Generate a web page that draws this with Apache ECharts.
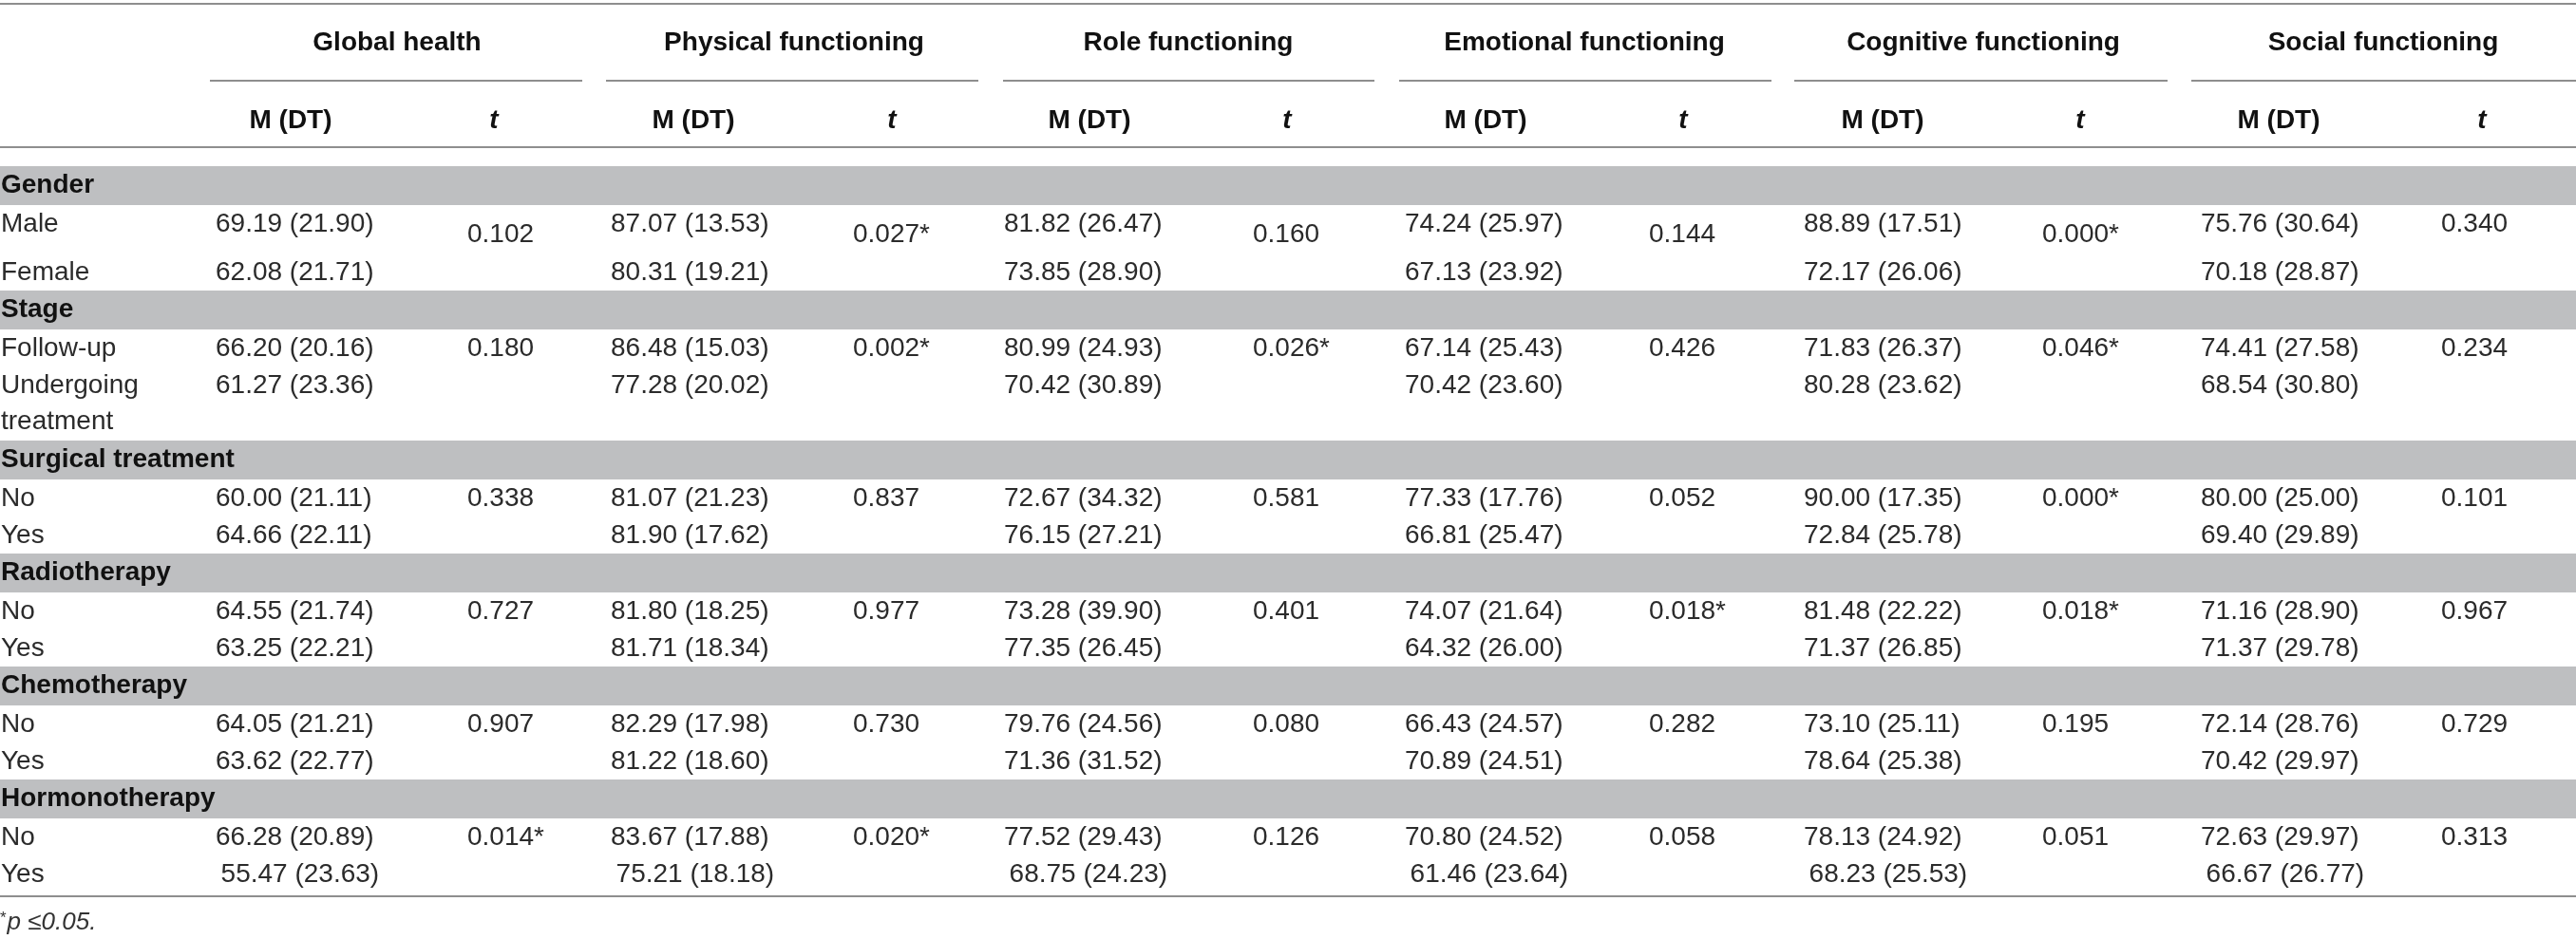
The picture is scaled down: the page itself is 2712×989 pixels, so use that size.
<!DOCTYPE html>
<html>
<head>
<meta charset="utf-8">
<script src="https://cdn.jsdelivr.net/npm/echarts@6/dist/echarts.min.js"></script>
<style>
    html, body { margin: 0; padding: 0; background: #fff; }
    #chart { width: 2712px; height: 989px; }
</style>
</head>
<body>
<div id="chart"></div>
<script>
// ---- data ----
const measures = ['Global health', 'Physical functioning', 'Role functioning',
    'Emotional functioning', 'Cognitive functioning', 'Social functioning'];
const subHeaders = ['M (DT)', 't'];
const groups = ['Gender', 'Stage', 'Surgical treatment', 'Radiotherapy', 'Chemotherapy', 'Hormonotherapy'];
const levels = [
    ['Male', 'Female'],
    ['Follow-up', 'Undergoing\ntreatment'],
    ['No', 'Yes'],
    ['No', 'Yes'],
    ['No', 'Yes'],
    ['No', 'Yes'],
];

const genderMeans = [
    ['69.19 (21.90)', '87.07 (13.53)', '81.82 (26.47)', '74.24 (25.97)', '88.89 (17.51)', '75.76 (30.64)'],
    ['62.08 (21.71)', '80.31 (19.21)', '73.85 (28.90)', '67.13 (23.92)', '72.17 (26.06)', '70.18 (28.87)'],
];
const stageMeans = [
    ['66.20 (20.16)', '86.48 (15.03)', '80.99 (24.93)', '67.14 (25.43)', '71.83 (26.37)', '74.41 (27.58)'],
    ['61.27 (23.36)', '77.28 (20.02)', '70.42 (30.89)', '70.42 (23.60)', '80.28 (23.62)', '68.54 (30.80)'],
];
const surgeryMeans = [
    ['60.00 (21.11)', '81.07 (21.23)', '72.67 (34.32)', '77.33 (17.76)', '90.00 (17.35)', '80.00 (25.00)'],
    ['64.66 (22.11)', '81.90 (17.62)', '76.15 (27.21)', '66.81 (25.47)', '72.84 (25.78)', '69.40 (29.89)'],
];
const radioMeans = [
    ['64.55 (21.74)', '81.80 (18.25)', '73.28 (39.90)', '74.07 (21.64)', '81.48 (22.22)', '71.16 (28.90)'],
    ['63.25 (22.21)', '81.71 (18.34)', '77.35 (26.45)', '64.32 (26.00)', '71.37 (26.85)', '71.37 (29.78)'],
];
const chemoMeans = [
    ['64.05 (21.21)', '82.29 (17.98)', '79.76 (24.56)', '66.43 (24.57)', '73.10 (25.11)', '72.14 (28.76)'],
    ['63.62 (22.77)', '81.22 (18.60)', '71.36 (31.52)', '70.89 (24.51)', '78.64 (25.38)', '70.42 (29.97)'],
];
const hormoneMeans = [
    ['66.28 (20.89)', '83.67 (17.88)', '77.52 (29.43)', '70.80 (24.52)', '78.13 (24.92)', '72.63 (29.97)'],
    ['\u200955.47 (23.63)', '\u200975.21 (18.18)', '\u200968.75 (24.23)', '\u200961.46 (23.64)', '\u200968.23 (25.53)', '\u200966.67 (26.77)'],
];
const groupMeans = [genderMeans, stageMeans, surgeryMeans, radioMeans, chemoMeans, hormoneMeans];

const genderT = ['0.102', '0.027*', '0.160', '0.144', '0.000*', '0.340'];
const stageT = ['0.180', '0.002*', '0.026*', '0.426', '0.046*', '0.234'];
const surgeryT = ['0.338', '0.837', '0.581', '0.052', '0.000*', '0.101'];
const radioT = ['0.727', '0.977', '0.401', '0.018*', '0.018*', '0.967'];
const chemoT = ['0.907', '0.730', '0.080', '0.282', '0.195', '0.729'];
const hormoneT = ['0.014*', '0.020*', '0.126', '0.058', '0.051', '0.313'];
const groupT = [genderT, stageT, surgeryT, radioT, chemoT, hormoneT];

// ---- layout (axis units: x = px across, y = px below the top rule) ----
const WIDTH = 2712;
const TABLE_H = 940;
const groupStartX = [221, 638, 1056, 1473, 1889, 2307];
const groupEndX = [613, 1030, 1447, 1865, 2282, 2712];
const titleX = [418, 836, 1251, 1668, 2088, 2509];
const mHeadX = [306, 730, 1147, 1564, 1982, 2399];
const tHeadX = [520, 939, 1355, 1772, 2190, 2613];
const mColX = [227, 643, 1057, 1479, 1899, 2317];
const tColX = [492, 898, 1319, 1736, 2150, 2570];

const TITLE_Y = 41, UNDERLINE_Y = 81, SUBHEAD_Y = 123, HEAD_RULE_Y = 151, FIRST_BAND_Y = 171;
const BAND_H = 41, ROW_H = 39, TEXT_OFF = 20;

const FONT = '"Liberation Sans", Arial, Helvetica, sans-serif';
const BAND_COLOR = '#bebfc1';
const RULE_COLOR = '#8e8e8e';

const bands = [];
const labelCells = [];
const valueCells = [];
let y = FIRST_BAND_Y;
groups.forEach((g, gi) => {
    bands.push({ text: g, y0: y, y1: y + BAND_H });
    y += BAND_H;
    levels[gi].forEach((lv, li) => {
        let h = ROW_H;
        if (gi === 0 && li === 0) h = 51;
        if (lv.indexOf('\n') >= 0) h = ROW_H * 2;
        const ty = y + TEXT_OFF;
        labelCells.push({ x: 1, y: ty, text: lv });
        groupMeans[gi][li].forEach((v, k) => valueCells.push({ x: mColX[k], y: ty, text: v }));
        if (li === 0) {
            groupT[gi].forEach((v, k) => {
                const shift = (gi === 0 && k < 5) ? 11 : 0;
                valueCells.push({ x: tColX[k], y: ty + shift, text: v });
            });
        }
        y += h;
    });
});

const rules = [
    { x0: 0, x1: WIDTH, y: 0 },
    { x0: 0, x1: WIDTH, y: HEAD_RULE_Y },
    { x0: 0, x1: WIDTH, y: TABLE_H },
];
groupStartX.forEach((x, k) => rules.push({ x0: x, x1: groupEndX[k], y: UNDERLINE_Y }));

const headCells = [];
measures.forEach((m, k) => {
    headCells.push({ x: titleX[k], y: TITLE_Y, text: m });
    headCells.push({ x: mHeadX[k], y: SUBHEAD_Y, text: subHeaders[0] });
    headCells.push({ x: tHeadX[k], y: SUBHEAD_Y, text: subHeaders[1], italic: true });
});

// ---- series builders ----
function textSeries(name, items, style) {
    return {
        name,
        type: 'custom',
        coordinateSystem: 'cartesian2d',
        silent: true,
        clip: false,
        data: items.map(it => [it.x, it.y]),
        renderItem(params, api) {
            const it = items[params.dataIndex];
            const p = api.coord([api.value(0), api.value(1)]);
            return {
                type: 'text',
                x: p[0],
                y: p[1],
                style: Object.assign({ text: it.text }, style,
                    it.italic ? { fontStyle: 'italic' } : {}),
            };
        },
    };
}

const option = {
    animation: false,
    grid: { left: 0, right: 0, top: 4, bottom: 45 },
    xAxis: { type: 'value', min: 0, max: WIDTH, show: false },
    yAxis: { type: 'value', min: 0, max: TABLE_H, inverse: true, show: false },
    series: [
        {
            name: 'bands',
            type: 'custom',
            coordinateSystem: 'cartesian2d',
            silent: true,
            clip: false,
            data: bands.map(b => [b.y0, b.y1]),
            renderItem(params, api) {
                const b = bands[params.dataIndex];
                const tl = api.coord([0, api.value(0)]);
                const br = api.coord([WIDTH, api.value(1)]);
                return {
                    type: 'group',
                    children: [
                        {
                            type: 'rect',
                            shape: { x: tl[0], y: tl[1], width: br[0] - tl[0], height: br[1] - tl[1] },
                            style: { fill: BAND_COLOR },
                        },
                        {
                            type: 'text',
                            x: tl[0] + 1,
                            y: (tl[1] + br[1]) / 2,
                            style: {
                                text: b.text, fill: '#111', fontFamily: FONT, fontSize: 28,
                                fontWeight: 'bold', align: 'left', verticalAlign: 'middle',
                            },
                        },
                    ],
                };
            },
        },
        {
            name: 'rules',
            type: 'custom',
            coordinateSystem: 'cartesian2d',
            silent: true,
            clip: false,
            data: rules.map(r => [r.x0, r.x1, r.y]),
            renderItem(params, api) {
                const a = api.coord([api.value(0), api.value(2)]);
                const b = api.coord([api.value(1), api.value(2)]);
                return {
                    type: 'rect',
                    shape: { x: a[0], y: a[1] - 1, width: b[0] - a[0], height: 2 },
                    style: { fill: RULE_COLOR },
                };
            },
        },
        textSeries('header', headCells, {
            fill: '#111', fontFamily: FONT, fontSize: 28, fontWeight: 'bold',
            align: 'center', verticalAlign: 'middle',
        }),
        textSeries('labels', labelCells, {
            fill: '#2b2b2b', fontFamily: FONT, fontSize: 28, align: 'left',
            verticalAlign: 'top', lineHeight: 38.5, padding: [-19, 0, 0, 0],
        }),
        textSeries('values', valueCells, {
            fill: '#2b2b2b', fontFamily: FONT, fontSize: 28, align: 'left', verticalAlign: 'middle',
        }),
        textSeries('footnote', [{ x: 0, y: 968, text: '{s|*}{n|p ≤0.05.}' }], {
            fill: '#333', fontFamily: FONT, fontStyle: 'italic', align: 'left', verticalAlign: 'middle',
            rich: {
                s: { fontSize: 17, fontFamily: FONT, fill: '#333', verticalAlign: 'top', padding: [0, 1, 8, 0] },
                n: { fontSize: 26, fontFamily: FONT, fontStyle: 'italic', fill: '#333' },
            },
        }),
    ],
};

const chart = echarts.init(document.getElementById('chart'), null, { renderer: 'canvas' });
chart.setOption(option);
window.addEventListener('resize', () => chart.resize());
</script>
</body>
</html>
